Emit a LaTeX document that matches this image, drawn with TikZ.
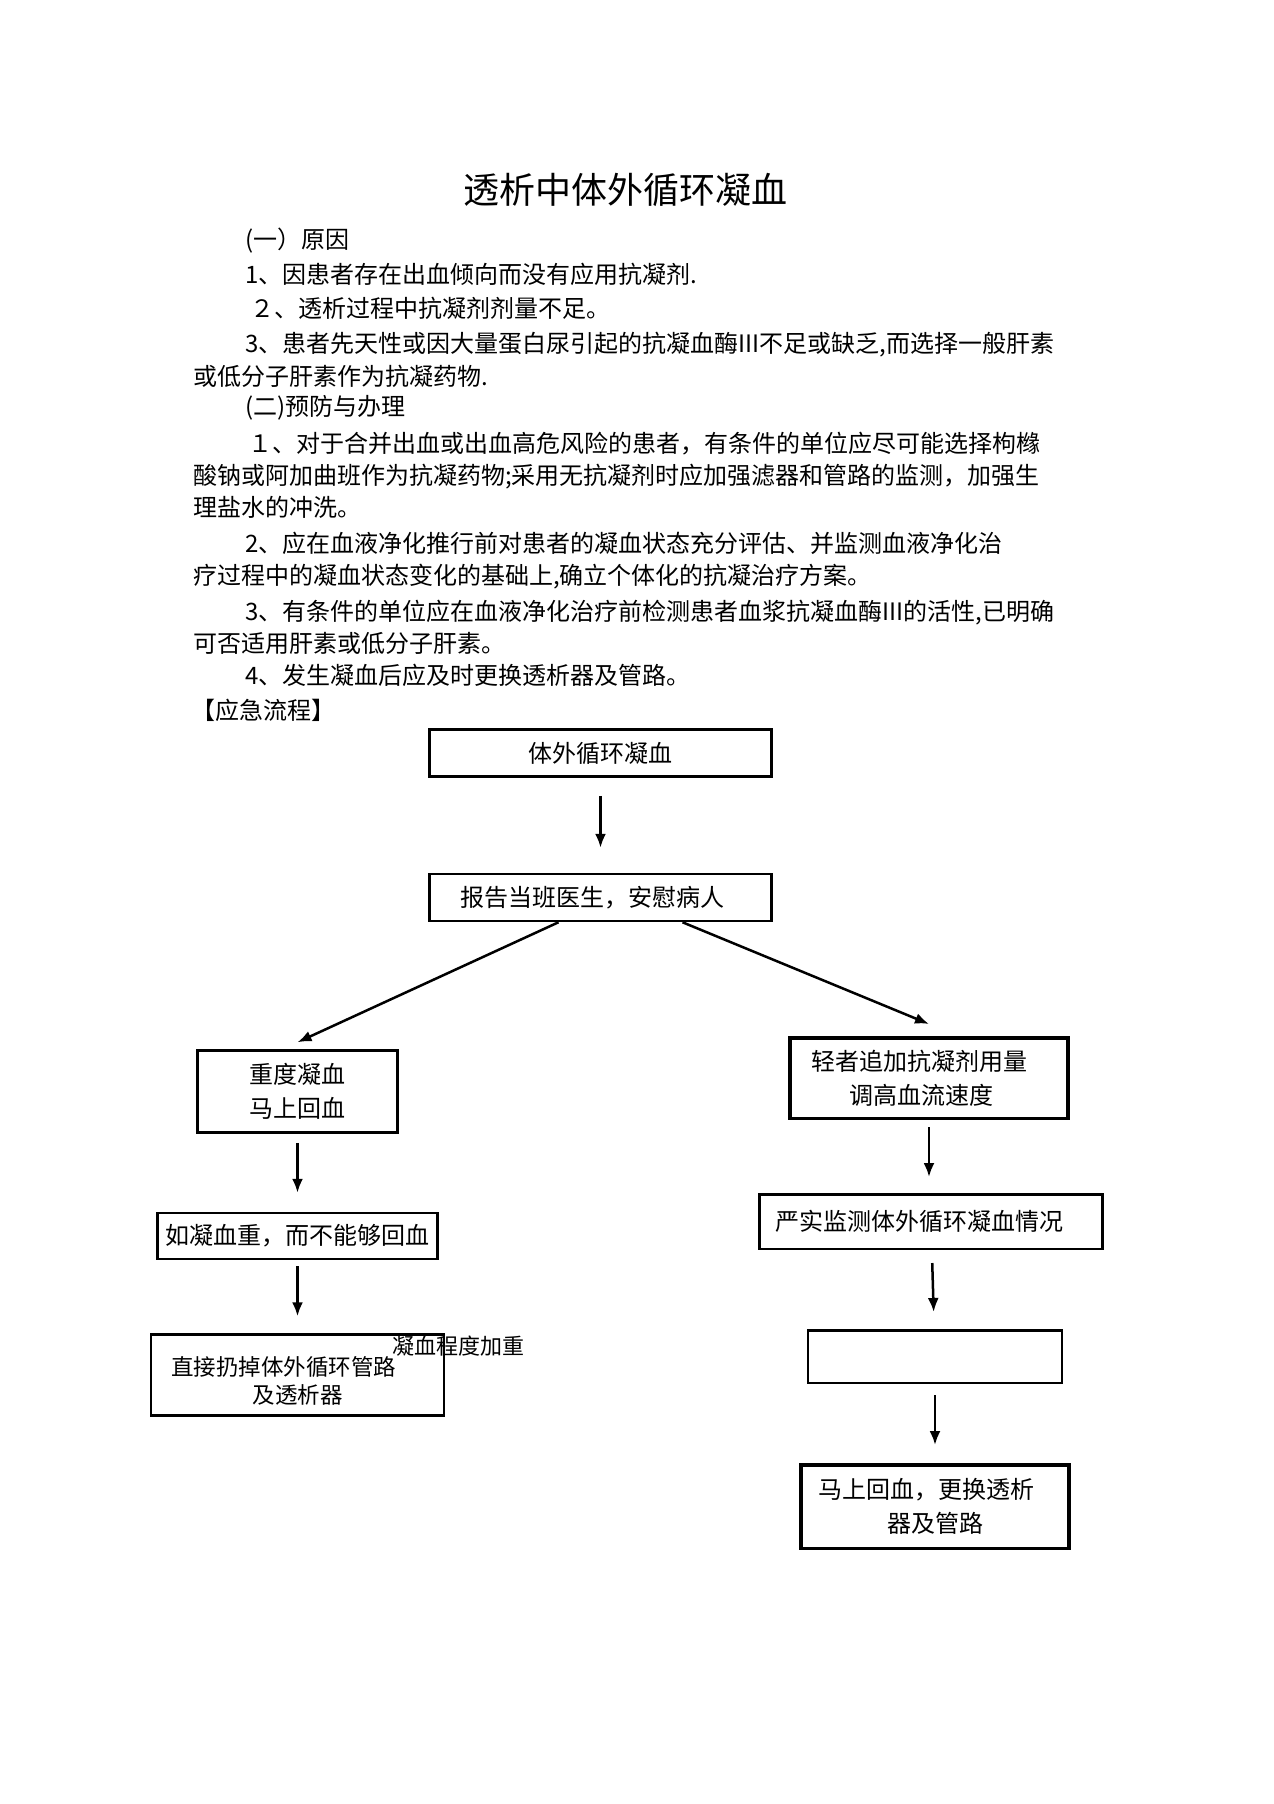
\documentclass[tikz,border=0pt]{standalone}
\usepackage{fontspec}
\setmainfont{Noto Sans CJK SC}
\usepackage{tikz}
\usetikzlibrary{arrows.meta, positioning}
\tikzstyle{para} = [anchor=west, inner sep=0pt, text height=21pt, text depth=3pt, font=\fontsize{24}{34}\selectfont]
\tikzstyle{box} = [rectangle, draw=black, line width=2.5pt, text centered, align=center, font=\fontsize{24}{34}\selectfont]
\tikzstyle{boldbox} = [box, line width=3.5pt]
\tikzset{
	FARROW/.style={line width=2.5pt, arrows={-Latex[length=14pt, width=11pt]}}
}

\begin{document}
\begin{tikzpicture}[x=1pt, y=1pt]
	\useasboundingbox (0,0) rectangle (1274,-1804);
	\node (title) at (625,-190) {\fontsize{36}{40}\selectfont 透析中体外循环凝血};
	% text
	\node (cause) [para] at (245,-239) {(一）原因};
	\node (c1) [para] at (245,-274) {1、因患者存在出血倾向而没有应用抗凝剂.};
	\node (c2) [para] at (250,-308) {２、透析过程中抗凝剂剂量不足。};
	\node (c3) [para] at (245,-343) {3、患者先天性或因大量蛋白尿引起的抗凝血酶III不足或缺乏,而选择一般肝素};
	\node (c3b) [para] at (193,-376) {或低分子肝素作为抗凝药物.};
	\node (prevent) [para] at (245,-406) {(二)预防与办理};
	\node (p1) [para] at (248,-443) {１、对于合并出血或出血高危风险的患者，有条件的单位应尽可能选择枸橼};
	\node (p1b) [para] at (193,-475) {酸钠或阿加曲班作为抗凝药物;采用无抗凝剂时应加强滤器和管路的监测，加强生};
	\node (p1c) [para] at (193,-507) {理盐水的冲洗。};
	\node (p2) [para] at (245,-543) {2、应在血液净化推行前对患者的凝血状态充分评估、并监测血液净化治};
	\node (p2b) [para] at (193,-575) {疗过程中的凝血状态变化的基础上,确立个体化的抗凝治疗方案。};
	\node (p3) [para] at (245,-611) {3、有条件的单位应在血液净化治疗前检测患者血浆抗凝血酶III的活性,已明确};
	\node (p3b) [para] at (193,-643) {可否适用肝素或低分子肝素。};
	\node (p4) [para] at (245,-675) {4、发生凝血后应及时更换透析器及管路。};
	\node (flowhead) [para] at (191,-710) {【应急流程】};
	% flow
	\node (start) [box, minimum width=342pt, minimum height=47pt] at (600.5,-753) {体外循环凝血};
	\node (report) [box, minimum width=342pt, minimum height=47pt, below=95pt of start] {报告当班医生，安慰病人\hspace*{16pt}};
	\node (heavy) [box, minimum width=200pt, minimum height=82pt] at (297.5,-1091.5) {重度凝血\\马上回血};
	\node (norecover) [box, minimum width=280pt, minimum height=46pt, below=78pt of heavy] {如凝血重，而不能够回血};
	\node (discard) [box, minimum width=293pt, minimum height=81pt, below=73pt of norecover, font=\fontsize{22.5}{28}\selectfont] {\rule{0pt}{30pt}直接扔掉体外循环管路\hspace*{28pt}\\及透析器};
	\node (worse) [para, anchor=center, font=\fontsize{22}{26}\selectfont] at (458,-1345) {凝血程度加重};
	\node (mild) [boldbox, minimum width=278pt, minimum height=80.5pt] at (929,-1078) {轻者追加抗凝剂用量\hspace*{20pt}\\调高血流速度\hspace*{16pt}};
	\node (monitor) [box, minimum width=343pt, minimum height=54.5pt, below=73pt of mild, xshift=2pt] {严实监测体外循环凝血情况\hspace*{24pt}};
	\node (blank) [box, minimum width=254pt, minimum height=52.5pt, below=79pt of monitor, xshift=4pt] {};
	\node (finish) [boldbox, minimum width=268pt, minimum height=83.5pt, below=79pt of blank] {马上回血，更换透析\hspace*{18pt}\\器及管路};
	\draw [FARROW, shorten <=18pt, shorten >=25pt] (start) -- (report);
	\draw [FARROW] ([xshift=-42pt]report.south) -- ([yshift=7pt]heavy.north);
	\draw [FARROW] ([xshift=82pt]report.south) -- ([yshift=12pt]mild.north);
	\draw [FARROW, shorten <=9pt, shorten >=19pt] (heavy) -- (norecover);
	\draw [FARROW, shorten <=6pt, shorten >=17pt] (norecover) -- (discard);
	\draw [FARROW, shorten <=7pt, shorten >=16pt] (mild.south) -- (mild.south |- monitor.north);
	\draw [FARROW, shorten <=13pt, shorten >=17pt] (monitor) -- (blank);
	\draw [FARROW, shorten <=11pt, shorten >=18pt] (blank) -- (finish);
\end{tikzpicture}
\end{document}
